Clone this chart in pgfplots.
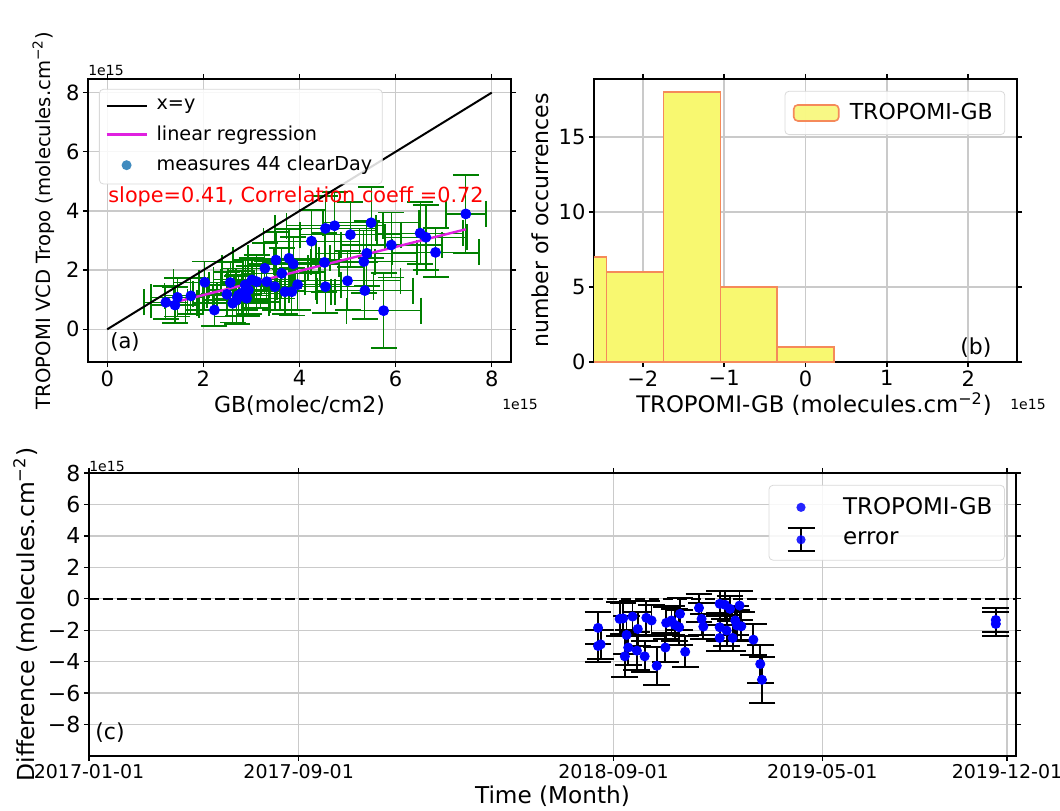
\documentclass[border=0pt]{standalone}
\usepackage{fontspec}
\setmainfont{DejaVu Sans}
\usepackage{pgfplots}
\usepackage{pgfplotstable}
\pgfplotsset{compat=1.18}

\definecolor{tabblue}{HTML}{1F77B4}
\definecolor{errgreen}{HTML}{008000}
\definecolor{regmag}{HTML}{E020E0}
\definecolor{histfill}{HTML}{F8F870}
\definecolor{histedge}{HTML}{F58A5A}
\definecolor{gridc}{HTML}{CACACA}

\pgfplotsset{
  base/.style={
    scale only axis,
    axis line style={black, line width=0.8pt},
    grid=major,
    major grid style={gridc, line width=0.7pt},
    tick align=outside,
    major tick length=2.6pt,
    tick style={black, line width=0.7pt},
    tick label style={font=\fontsize{10.5}{12}\selectfont, inner sep=1.5pt},
    legend cell align=left,
  },
}
\tikzset{lbl/.style={inner sep=0pt}}

\pgfplotstableread{
x y ex ey
1.22 0.91 0.45 0.55
1.41 0.82 0.50 0.60
1.46 1.08 0.55 0.65
1.74 1.13 0.55 0.60
2.03 1.59 0.65 0.70
2.23 0.65 0.60 0.55
2.49 1.18 0.70 0.75
2.56 1.58 0.65 0.70
2.61 0.88 0.75 0.65
2.69 0.99 0.70 0.80
2.73 1.15 0.65 0.70
2.80 1.22 0.80 0.75
2.87 1.50 0.75 0.85
2.90 1.05 0.70 0.60
2.94 1.33 0.85 0.80
3.01 1.67 0.80 0.75
3.11 1.61 0.75 0.90
3.28 2.06 0.90 0.85
3.32 1.61 0.80 0.70
3.49 1.44 0.85 0.80
3.51 2.34 0.90 0.95
3.63 1.89 0.80 0.85
3.70 1.27 0.95 0.75
3.78 2.40 0.85 1.00
3.84 1.27 0.90 0.80
3.87 2.21 0.95 0.90
3.96 1.51 0.90 0.85
4.25 2.98 1.00 1.05
4.52 2.26 1.05 1.00
4.54 1.44 1.00 0.90
4.54 3.41 1.05 1.10
4.73 3.50 1.00 1.15
5.00 1.64 1.10 1.00
5.06 3.20 1.05 1.10
5.36 1.31 1.00 0.95
5.34 2.29 1.10 1.05
5.40 2.57 1.05 1.10
5.49 3.60 1.00 1.20
5.75 0.63 0.77 1.27
5.91 2.85 1.05 1.10
6.51 3.25 0.90 1.05
6.63 3.11 0.85 1.10
6.83 2.60 0.90 0.82
7.46 3.90 0.42 1.32
}\dataA

\pgfplotstableread{
d v e
590 -1.85 1.0
590 -3.00 1.0
593 -2.90 0.9
615 -1.28 1.1
619 -1.25 1.0
623 -2.30 1.2
625 -3.10 1.1
621 -3.66 1.3
630 -1.13 1.0
636 -1.92 1.1
635 -3.30 1.2
644 -3.66 1.0
646 -1.21 1.1
652 -1.38 1.0
658 -4.26 1.2
668 -3.10 0.9
669 -1.53 1.0
675 -1.38 0.9
679 -1.66 1.0
685 -0.96 1.0
684 -1.81 1.1
691 -3.37 1.0
707 -0.58 0.9
710 -1.28 1.0
712 -1.77 0.8
731 -0.32 0.8
737 -0.38 0.9
743 -0.64 0.8
754 -0.43 0.9
731 -1.81 0.9
731 -2.49 0.8
739 -2.02 1.0
746 -2.49 0.8
749 -1.38 0.9
751 -1.70 1.0
756 -1.75 0.9
770 -2.60 1.0
778 -4.15 1.2
780 -5.15 1.45
1051 -1.35 0.75
1051 -1.60 0.75
}\dataC

\begin{document}
\begin{tikzpicture}
\useasboundingbox (0pt,0pt) rectangle (530pt,405pt);

% ---------------- (a)
\begin{axis}[base,
  at={(44pt,224pt)}, anchor=south west,
  width=211.5pt, height=141.5pt,
  xmin=-0.4, xmax=8.4, ymin=-1.105, ymax=8.46,
  xtick={0,2,4,6,8}, xticklabels={0,2,4,6,8},
  ytick={0,2,4,6,8}, yticklabels={0,2,4,6,8},
  legend style={at={(0.026,0.965)}, anchor=north west, draw=gray!30, fill=white, fill opacity=0.85, text opacity=1,
    rounded corners=2pt, font=\fontsize{9.6}{11}\selectfont, row sep=2.5pt, inner xsep=3pt, inner ysep=3pt},
]
\addlegendimage{legend image code/.code={\path[draw=none] (0pt,0pt)--(23pt,0pt); \draw[black, line width=1pt] (0pt,0pt)--(20pt,0pt);}}
\addlegendentry{x=y}
\addlegendimage{legend image code/.code={\path[draw=none] (0pt,0pt)--(23pt,0pt); \draw[regmag, line width=1.2pt] (0pt,0pt)--(20pt,0pt);}}
\addlegendentry{linear regression}
\addlegendimage{legend image code/.code={\path[draw=none] (0pt,0pt)--(23pt,0pt); \fill[tabblue, draw=none] (10pt,0pt) circle (2.5pt);}}
\addlegendentry{measures 44 clearDay}

\addplot[forget plot, only marks, mark=none, color=errgreen,
  error bars/.cd, x dir=both, x explicit, y dir=both, y explicit,
  error bar style={errgreen, line width=0.6pt},
  error mark options={rotate=90, errgreen, line width=0.9pt, mark size=6.5pt}]
  table[x=x, y=y, x error=ex, y error=ey] {\dataA};
\addplot[forget plot, black, line width=1pt] coordinates {(0,0) (8,8)};
\addplot[forget plot, regmag, line width=1.2pt] coordinates {(1.22,0.84) (7.46,3.38)};
\addplot[forget plot, only marks, mark=*, blue, mark size=2.5pt] table[x=x, y=y] {\dataA};
\end{axis}

% ---------------- (b)
\begin{axis}[base,
  at={(297pt,224pt)}, anchor=south west,
  width=211.5pt, height=141.5pt,
  xmin=-2.6, xmax=2.6, ymin=0, ymax=18.87,
  xtick={-2,-1,0,1,2}, xticklabels={−2,−1,0,1,2},
  ytick={0,5,10,15}, yticklabels={0,5,10,15},
  legend style={at={(0.972,0.958)}, anchor=north east, draw=gray!30, fill=white, fill opacity=0.85, text opacity=1,
    rounded corners=2pt, font=\fontsize{11}{13}\selectfont, inner xsep=4pt, inner ysep=4pt},
]
\addlegendimage{legend image code/.code={\path[draw=none] (0pt,0pt)--(26pt,0pt); \draw[fill=histfill, draw=histedge, line width=0.8pt] (0pt,-4pt) rectangle (22.5pt,4pt);}}
\addlegendentry{TROPOMI-GB}
\addplot[forget plot, ybar interval, fill=histfill, draw=histedge, line width=0.8pt]
  coordinates {(-3.14,7) (-2.444,6) (-1.747,18) (-1.047,5) (-0.349,1) (0.352,1)};
\end{axis}

% ---------------- (c)
\begin{axis}[base,
  at={(44.5pt,27pt)}, anchor=south west,
  width=463.5pt, height=141.5pt,
  xmin=0, xmax=1074.4, ymin=-10, ymax=8,
  xtick={0,243,608,850,1064},
  xticklabels={2017-01-01,2017-09-01,2018-09-01,2019-05-01,2019-12-01},
  xticklabel style={font=\fontsize{9.5}{11}\selectfont},
  ytick={-8,-6,-4,-2,0,2,4,6,8}, yticklabels={−8,−6,−4,−2,0,2,4,6,8},
  yticklabel style={font=\fontsize{11}{13}\selectfont},
  legend style={at={(0.988,0.958)}, anchor=north east, draw=gray!30, fill=white, fill opacity=0.85, text opacity=1,
    rounded corners=2pt, font=\fontsize{11.5}{13}\selectfont, row sep=3pt, inner xsep=4pt, inner ysep=4pt},
]
\addlegendimage{legend image code/.code={\path[draw=none] (0pt,0pt)--(31pt,0pt); \fill[blue, draw=none] (12pt,0pt) circle (2.3pt);}}
\addlegendentry{TROPOMI-GB}
\addlegendimage{legend image code/.code={\path[draw=none] (0pt,0pt)--(31pt,0pt);
  \draw[black, line width=0.9pt] (12pt,-5.7pt)--(12pt,5.7pt);
  \draw[black, line width=1pt] (5.25pt,5.7pt)--(18.75pt,5.7pt) (5.25pt,-5.7pt)--(18.75pt,-5.7pt);
  \fill[blue, draw=none] (12pt,0pt) circle (2.3pt);}}
\addlegendentry{error}

\addplot[forget plot, black, line width=0.9pt, dash pattern=on 5pt off 2pt] coordinates {(0,0) (1074.4,0)};
\addplot[forget plot, only marks, mark=*, blue, mark size=2.3pt,
  error bars/.cd, y dir=both, y explicit,
  error bar style={black, line width=0.9pt},
  error mark options={rotate=90, black, line width=1pt, mark size=6.7pt}]
  table[x=d, y=v, y error=e] {\dataC};
\end{axis}

% ---------------- labels
\node[lbl, rotate=90, anchor=base, font=\fontsize{9.8}{12}\selectfont] at (25pt,294.75pt) {TROPOMI VCD Tropo (molecules.cm\textsuperscript{−2})};
\node[lbl, anchor=base, font=\fontsize{11}{13}\selectfont] at (149.75pt,199pt) {GB(molec/cm2)};
\node[lbl, font=\fontsize{7}{8}\selectfont] at (53pt,370pt) {1e15};
\node[lbl, font=\fontsize{7}{8}\selectfont] at (260pt,203pt) {1e15};
\node[lbl, anchor=base west, text=red, font=\fontsize{10.4}{12}\selectfont] at (54pt,303.5pt) {slope=0.41, Correlation coeff =0.72};
\node[lbl, anchor=base west, font=\fontsize{10.5}{12}\selectfont] at (55pt,230.5pt) {(a)};

\node[lbl, rotate=90, anchor=base, font=\fontsize{11}{13}\selectfont] at (274pt,294.75pt) {number of occurrences};
\node[lbl, anchor=base, font=\fontsize{11.4}{14}\selectfont] at (407pt,199pt) {TROPOMI-GB (molecules.cm\textsuperscript{−2})};
\node[lbl, font=\fontsize{7}{8}\selectfont] at (514pt,203pt) {1e15};
\node[lbl, anchor=base west, font=\fontsize{11}{13}\selectfont] at (480pt,228pt) {(b)};

\node[lbl, rotate=90, anchor=base, font=\fontsize{11.7}{14}\selectfont] at (17pt,97.75pt) {Difference (molecules.cm\textsuperscript{−2})};
\node[lbl, anchor=base, font=\fontsize{11.6}{14}\selectfont] at (276.25pt,3.5pt) {Time (Month)};
\node[lbl, font=\fontsize{7}{8}\selectfont] at (53.5pt,172pt) {1e15};
\node[lbl, anchor=base west, font=\fontsize{11}{13}\selectfont] at (47.5pt,35.5pt) {(c)};
\end{tikzpicture}
\end{document}
